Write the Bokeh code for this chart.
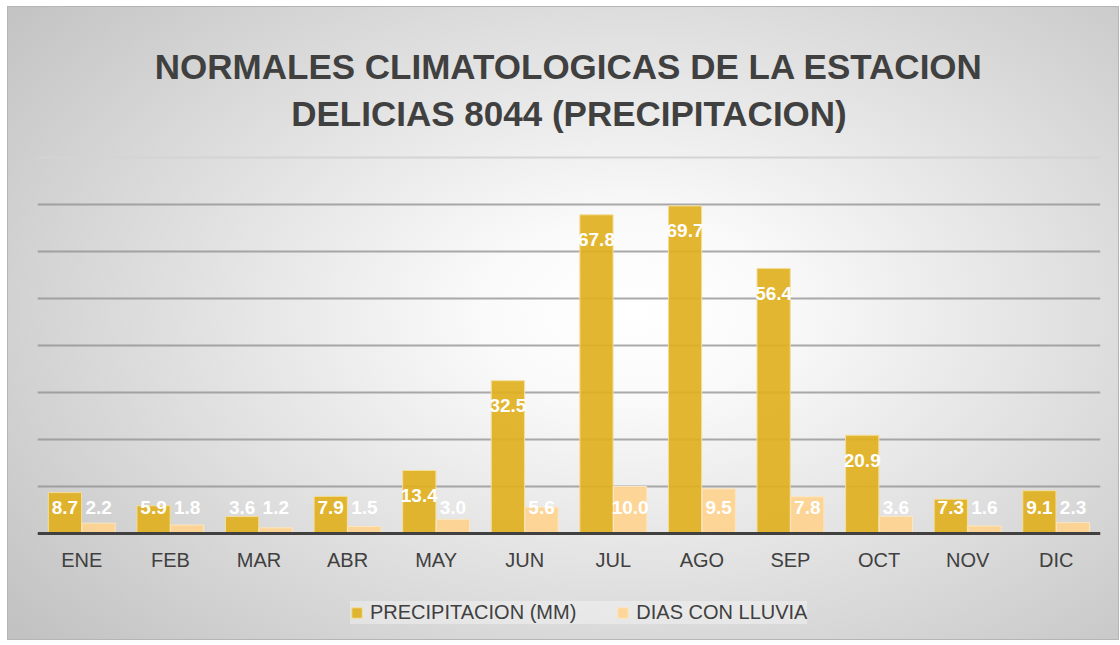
import numpy as np
from bokeh.plotting import figure
from bokeh.models import (FactorRange, Range1d, Legend, LegendItem, ColumnDataSource,
                          Label, FixedTicker, Span)
from bokeh.transform import dodge
from bokeh.core.properties import value
from bokeh.embed import file_html
from bokeh.resources import INLINE

months = ["ENE", "FEB", "MAR", "ABR", "MAY", "JUN", "JUL", "AGO", "SEP", "OCT", "NOV", "DIC"]
precipitacion = [8.7, 5.9, 3.6, 7.9, 13.4, 32.5, 67.8, 69.7, 56.4, 20.9, 7.3, 9.1]
dias_lluvia = [2.2, 1.8, 1.2, 1.5, 3.0, 5.6, 10.0, 9.5, 7.8, 3.6, 1.6, 2.3]
title_lines = ["NORMALES CLIMATOLOGICAS DE LA ESTACION", "DELICIAS 8044 (PRECIPITACION)"]
series_names = ["PRECIPITACION (MM)", "DIAS CON LLUVIA"]
grid_ticks = [10, 20, 30, 40, 50, 60, 70]
y_top = 80

FONT = "Liberation Sans"
C_PREC = "#E1B021"
C_DIAS = "#FDD28F"
TXT = "#404040"

pv = np.array(precipitacion)
dv = np.array(dias_lluvia)
src = ColumnDataSource(dict(
    m=months, p=precipitacion, d=dias_lluvia,
    p_lab=[f"{v:.1f}" for v in precipitacion],
    d_lab=[f"{v:.1f}" for v in dias_lluvia],
    p_y=np.maximum(pv - 5.3, 5.5), d_y=np.maximum(dv - 5.3, 5.5),
))

# the frame spans the whole chart box (title and legend included);
# the category axis is pinned at y = 0
p = figure(frame_width=1063, frame_height=634,
           x_range=FactorRange(*months, range_padding=0),
           y_range=Range1d(-22.77, 112.13), output_backend="svg", toolbar_location=None,
           min_border_left=30, min_border_right=19, min_border_top=0, min_border_bottom=0)
p.margin = (6, 0, 0, 7)
p.title.visible = False

p.background_fill_alpha = 0
p.border_fill_alpha = 0
p.outline_line_color = None
p.styles = {
    "background": "radial-gradient(ellipse 72% 78% at 56% 48%, #ffffff 0%, #fafafa 18%, #c2c2c2 100%)",
    "box-shadow": "inset 0 0 0 1px #b5b5b5",
}

# grid
p.yaxis.visible = False
p.ygrid.ticker = FixedTicker(ticks=grid_ticks)
p.ygrid.grid_line_color = "#8f8f8f"
p.ygrid.grid_line_alpha = 0.75
p.ygrid.grid_line_width = 2
p.xgrid.visible = False
p.add_layout(Span(location=y_top, dimension="width", line_color="#d4d4d4", line_width=2))

r1 = p.vbar(x=dodge("m", -0.19, range=p.x_range), top="p", width=0.375, source=src,
            fill_color=C_PREC, fill_alpha=0.92, line_color="#F3DE9A", line_width=1)
r2 = p.vbar(x=dodge("m", 0.19, range=p.x_range), top="d", width=0.375, source=src,
            fill_color=C_DIAS, fill_alpha=0.92, line_color="#FCE6C0", line_width=1)

p.text(x=dodge("m", -0.19, range=p.x_range), y="p_y", text="p_lab", source=src,
       text_align="center", text_baseline="middle", text_color="white",
       text_font=value(FONT), text_font_size="19px", text_font_style="bold")
p.text(x=dodge("m", 0.19, range=p.x_range), y="d_y", text="d_lab", source=src,
       text_align="center", text_baseline="middle", text_color="white",
       text_font=value(FONT), text_font_size="19px", text_font_style="bold")

ax = p.xaxis[0]
ax.fixed_location = 0
ax.axis_line_color = TXT
ax.axis_line_width = 3
ax.major_tick_line_color = None
ax.minor_tick_line_color = None
ax.major_tick_out = 0
ax.major_tick_in = 0
ax.major_label_text_font = FONT
ax.major_label_text_font_size = "20px"
ax.major_label_text_color = TXT
ax.major_label_standoff = 16

# two-line title, centred over the 12 categories
n = len(months)
for txt, yy in zip(title_lines, [99.36, 89.36]):
    p.add_layout(Label(x=n / 2, y=yy, text=txt, text_align="center",
                       text_baseline="alphabetic", text_font=FONT, text_font_size="35px",
                       text_font_style="bold", text_color=TXT))

legend = Legend(items=[LegendItem(label=series_names[0], renderers=[r1]),
                       LegendItem(label=series_names[1], renderers=[r2])],
                orientation="horizontal", location=(313, 16),
                label_text_font=FONT, label_text_font_size="20px", label_text_color=TXT,
                glyph_width=13, glyph_height=13, label_height=19, spacing=40, padding=12,
                margin=0,
                background_fill_color="white", background_fill_alpha=0.35,
                border_line_color=None, label_standoff=7)
p.add_layout(legend, "center")

open("out.html", "w").write(file_html(p, INLINE))
